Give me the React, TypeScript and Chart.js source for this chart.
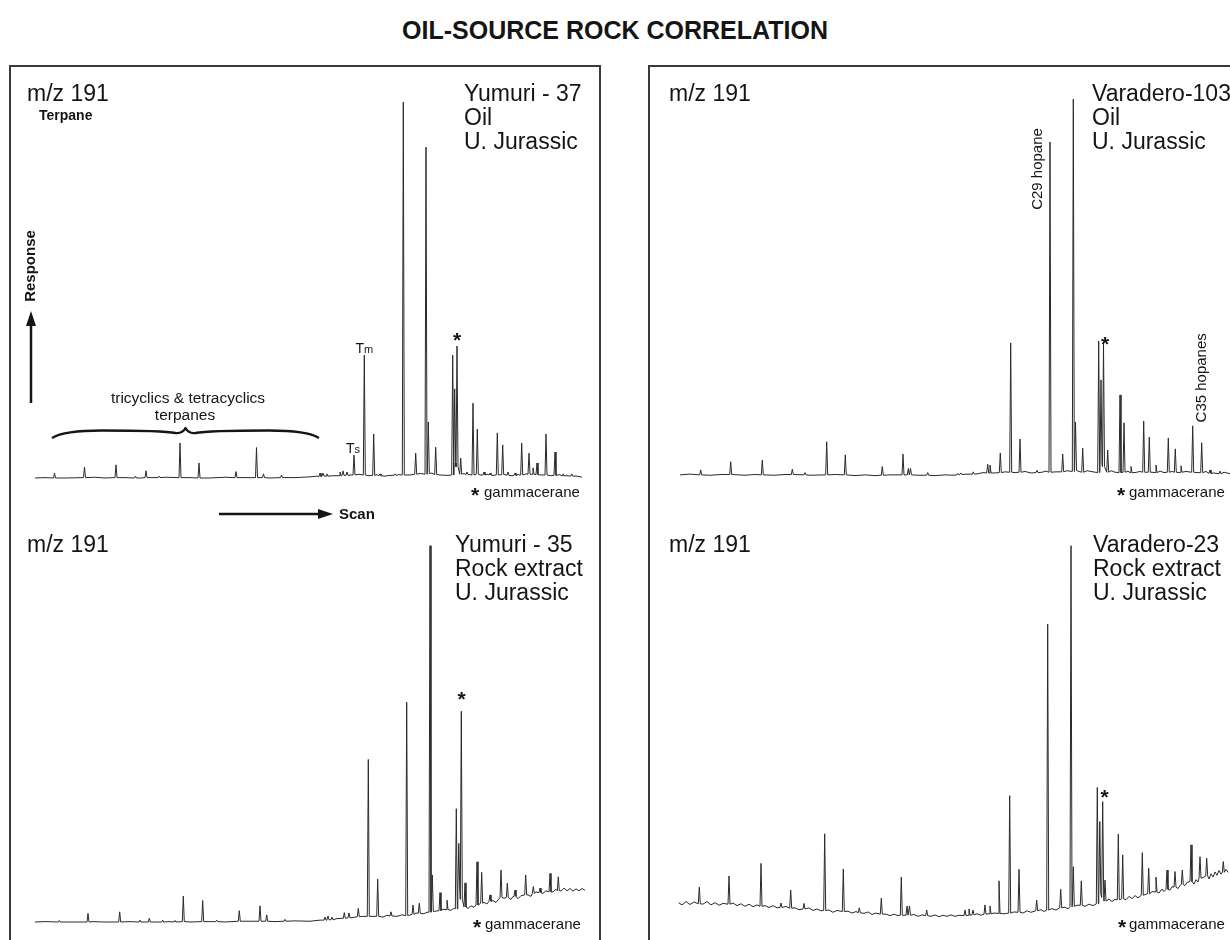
import React, { useEffect, useRef } from "react";
import { Chart, registerables } from "chart.js";

Chart.register(...registerables);

const FONT = '"Liberation Sans", Arial, Helvetica, sans-serif';
const INK = "#151515";
const TRACE = "#2a2a2a";
const FRAME = "#3a3a3a";

// Retention times are in minutes, responses in % of the largest peak of each run.
// Peaks: [retention time, apex response, trace level at the peak feet]
// Baseline: [retention time, level] readings between peaks.

const title = "OIL-SOURCE ROCK CORRELATION";
const ionLabel = "m/z 191";
const sampleNames = ["Yumuri - 37", "Varadero-103", "Yumuri - 35", "Varadero-23"];
const sampleTypes = ["Oil", "Oil", "Rock extract", "Rock extract"];
const sampleAge = "U. Jurassic";

// Yumuri-37, oil
const yumuri37Peaks = [
  [21.95, 1.3, 0.0], [24.95, 2.9, 0.1], [28.1, 3.5, 0.1], [30.05, 0.5, 0.0], [31.1, 1.9, 0.1],
  [32.4, 0.5, 0.1], [34.5, 9.3, 0.1], [36.4, 4.0, 0.0], [40.1, 1.7, 0.1], [42.15, 8.1, 0.1],
  [42.85, 1.1, 0.1], [44.65, 0.8, 0.1], [48.5, 1.3, 0.4], [48.8, 1.3, 0.5], [49.2, 1.1, 0.5],
  [50.5, 1.6, 0.6], [50.8, 1.9, 0.7], [51.2, 1.6, 0.7], [51.9, 6.1, 0.8], [52.93, 32.7, 0.8],
  [53.87, 11.7, 0.7], [54.5, 1.1, 0.6], [56.0, 1.1, 0.7], [56.83, 100, 0.8], [58.07, 6.6, 1.0],
  [59.1, 88.0, 1.0], [59.33, 14.9, 1.2], [60.07, 8.2, 0.9], [61.77, 32.7, 0.8], [61.97, 23.7, 4.0],
  [62.2, 35.1, 3.0], [62.57, 5.3, 1.0], [63.2, 1.6, 0.9], [63.8, 19.9, 0.8], [64.23, 13.0, 1.0],
  [64.9, 1.6, 0.8], [65.5, 1.3, 0.8], [66.23, 12.0, 0.8], [66.77, 8.8, 0.9], [67.3, 1.6, 0.7],
  [68.0, 1.3, 0.7], [68.67, 9.3, 0.8], [69.4, 6.6, 1.0], [69.8, 2.7, 1.0], [70.2, 4.0, 0.9],
  [71.1, 11.7, 0.8], [72.0, 6.9, 0.7], [72.8, 1.1, 0.6], [73.67, 1.1, 0.5],
];
const yumuri37Baseline = [
  [20.0, 0.0], [21.0, 0.1], [23.0, 0.0], [26.0, 0.2], [27.0, 0.0], [29.0, 0.1], [30.6, 0.0],
  [33.0, 0.2], [35.5, 0.1], [37.5, 0.0], [39.0, 0.2], [41.0, 0.1], [43.5, 0.0], [46.0, 0.1],
  [47.5, 0.3], [48.2, 0.5], [49.8, 0.6], [51.6, 0.8], [52.4, 1.0], [53.4, 0.6], [54.2, 0.9],
  [55.0, 0.5], [55.5, 0.7], [56.4, 0.9], [57.5, 0.8], [58.5, 1.2], [59.7, 1.3], [60.5, 0.8],
  [61.2, 0.7], [62.9, 1.2], [63.5, 0.9], [64.5, 0.8], [65.2, 1.0], [65.8, 0.7], [67.0, 0.9],
  [67.7, 0.6], [68.3, 0.9], [69.1, 1.1], [70.6, 0.8], [71.6, 0.6], [72.4, 0.9], [73.2, 0.6],
  [74.2, 0.5], [74.7, 0.2],
];

// Varadero-103, oil
const varadero103Peaks = [
  [22.07, 1.6, 0.3], [25.07, 3.8, 0.4], [28.23, 4.2, 0.3], [31.23, 1.8, 0.4], [32.5, 0.9, 0.3],
  [34.67, 9.1, 0.3], [36.53, 5.6, 0.3], [40.23, 2.5, 0.2], [42.3, 5.8, 0.3], [42.83, 2.0, 0.3],
  [43.05, 2.0, 0.3], [44.77, 0.9, 0.2], [47.8, 0.7, 0.3], [48.1, 0.8, 0.4], [49.33, 1.1, 0.5],
  [50.77, 3.1, 0.8], [51.0, 2.9, 0.8], [52.03, 6.1, 0.9], [53.07, 35.3, 1.0], [54.0, 9.8, 1.0],
  [55.7, 1.5, 0.9], [57.0, 88.6, 1.0], [58.27, 5.8, 1.1], [59.33, 100, 1.2], [59.55, 14.3, 1.5],
  [60.27, 7.4, 1.0], [61.87, 35.8, 0.9], [62.1, 25.5, 3.0], [62.35, 35.0, 2.5], [62.77, 6.9, 1.0],
  [64.0, 21.5, 0.9], [64.4, 14.1, 1.0], [65.1, 2.5, 0.9], [66.37, 14.6, 1.0], [66.93, 10.3, 1.0],
  [67.6, 2.9, 0.9], [68.83, 10.1, 1.0], [69.53, 7.2, 1.0], [70.1, 2.7, 1.0], [71.27, 13.3, 1.0],
  [72.17, 8.8, 0.9], [73.0, 1.6, 0.7], [74.0, 1.3, 0.6],
];
const varadero103Baseline = [
  [20.0, 0.3], [21.0, 0.5], [23.0, 0.2], [24.2, 0.4], [26.5, 0.2], [27.5, 0.4], [29.5, 0.2],
  [30.5, 0.4], [33.0, 0.2], [35.5, 0.4], [37.5, 0.1], [38.5, 0.3], [39.5, 0.1], [41.0, 0.3],
  [43.8, 0.2], [45.5, 0.1], [46.5, 0.3], [47.3, 0.2], [48.7, 0.5], [49.8, 0.6], [50.3, 0.9],
  [51.5, 0.8], [52.5, 1.1], [53.5, 0.9], [54.5, 1.2], [55.1, 0.8], [56.2, 1.0], [56.6, 1.3],
  [57.6, 1.1], [58.7, 1.4], [59.9, 1.2], [60.7, 1.4], [61.3, 1.1], [63.1, 1.4], [63.5, 1.0],
  [64.8, 1.3], [65.5, 0.9], [66.0, 1.2], [67.2, 1.0], [68.0, 1.3], [68.4, 0.9], [69.2, 1.2],
  [69.9, 0.9], [70.6, 1.2], [71.7, 0.9], [72.6, 1.2], [73.4, 0.8], [74.4, 1.0], [75.0, 0.6],
];

// Yumuri-35, rock extract
const yumuri35Peaks = [
  [22.43, 0.4, 0.0], [25.3, 2.3, 0.0], [28.47, 2.7, 0.0], [30.5, 0.5, 0.0], [31.43, 1.0, 0.0],
  [32.77, 0.5, 0.0], [34.0, 0.4, 0.0], [34.83, 6.9, 0.1], [36.77, 5.7, 0.1], [38.17, 0.5, 0.1],
  [40.43, 3.0, 0.2], [42.5, 4.3, 0.2], [43.17, 1.9, 0.2], [45.0, 0.7, 0.2], [49.0, 1.3, 0.5],
  [49.3, 1.6, 0.6], [49.7, 1.3, 0.6], [50.93, 2.5, 1.0], [51.4, 2.4, 1.1], [52.33, 3.6, 1.4],
  [53.33, 43.2, 1.5], [54.27, 11.4, 1.5], [55.6, 2.7, 1.6], [57.17, 58.4, 1.7], [57.8, 4.5, 2.0],
  [58.43, 5.0, 2.3], [59.5, 100, 2.6], [59.73, 12.5, 2.8], [60.5, 7.8, 3.0], [61.2, 5.8, 3.3],
  [62.13, 30.1, 3.5], [62.38, 20.9, 8.0], [62.63, 56.0, 6.0], [63.0, 10.4, 4.0], [64.2, 16.0, 4.5],
  [64.67, 13.2, 5.0], [65.5, 7.2, 5.5], [66.6, 13.8, 6.5], [67.23, 10.3, 6.5], [68.0, 8.5, 6.8],
  [69.07, 12.5, 7.2], [69.83, 9.4, 7.6], [70.5, 9.0, 7.8], [71.5, 12.9, 8.0], [72.33, 12.0, 8.3],
];
const yumuri35Baseline = [
  [20.0, 0.0], [21.0, 0.1], [23.5, 0.0], [25.8, 0.1], [27.0, 0.0], [29.5, 0.1], [31.9, 0.0],
  [33.4, 0.1], [35.6, 0.0], [37.5, 0.1], [39.0, 0.0], [41.5, 0.2], [44.0, 0.1], [46.0, 0.3],
  [47.5, 0.2], [48.5, 0.5], [50.2, 0.9], [51.8, 1.2], [52.8, 1.5], [54.8, 1.3], [55.2, 1.8],
  [56.2, 1.5], [56.7, 1.9], [58.1, 2.4], [58.9, 2.2], [59.2, 2.6], [60.1, 2.9], [60.8, 3.4],
  [61.6, 3.1], [61.85, 3.6], [63.3, 3.6], [63.6, 4.3], [63.9, 3.9], [64.9, 5.2], [65.2, 4.8],
  [65.8, 5.7], [66.1, 5.2], [66.9, 6.3], [67.6, 6.0], [67.8, 6.8], [68.3, 6.2], [68.6, 7.0],
  [69.3, 7.2], [69.6, 6.8], [70.1, 8.0], [70.8, 7.6], [71.1, 8.3], [71.8, 8.0], [72.1, 8.7],
  [72.6, 8.2], [72.9, 9.0], [73.2, 8.3], [73.5, 8.9], [73.8, 8.2], [74.1, 8.8], [74.4, 8.3],
  [74.7, 8.9], [75.0, 8.4],
];

// Varadero-23, rock extract
const varadero23Peaks = [
  [21.93, 7.8, 3.3], [24.9, 10.8, 3.2], [28.1, 14.2, 2.6], [30.1, 3.5, 2.3], [31.07, 7.0, 2.1],
  [32.4, 3.4, 1.9], [34.47, 22.2, 1.5], [36.33, 12.7, 1.2], [37.93, 2.2, 0.9], [40.13, 4.8, 0.5],
  [42.13, 10.5, 0.2], [42.7, 2.7, 0.2], [42.95, 2.7, 0.2], [44.67, 1.6, 0.1], [48.5, 1.6, 0.1],
  [48.9, 1.9, 0.2], [49.3, 1.6, 0.3], [50.5, 3.0, 0.5], [51.0, 2.7, 0.6], [51.9, 9.5, 0.7],
  [52.97, 32.5, 0.8], [53.9, 12.6, 1.0], [55.67, 4.3, 1.4], [56.77, 78.8, 1.6], [58.07, 7.2, 2.2],
  [59.1, 100, 2.5], [59.33, 13.3, 2.6], [60.13, 9.5, 2.9], [61.73, 34.7, 3.3], [61.98, 25.5, 6.0],
  [62.27, 30.9, 5.0], [62.5, 9.7, 4.0], [63.83, 22.1, 4.4], [64.27, 16.5, 4.6], [66.23, 17.1, 5.6],
  [66.87, 12.9, 6.0], [67.6, 10.5, 6.5], [68.7, 12.4, 7.2], [69.5, 12.0, 7.8], [70.23, 12.4, 8.5],
  [71.1, 19.2, 9.3], [72.0, 16.0, 10.2], [72.67, 15.6, 10.8], [74.33, 14.7, 11.8],
];
const varadero23Baseline = [
  [19.85, 3.6], [20.2, 3.0], [20.6, 3.9], [21.0, 3.1], [21.4, 3.8], [22.3, 3.2], [22.7, 3.9],
  [23.1, 3.0], [23.5, 3.6], [23.9, 2.9], [24.3, 3.4], [25.3, 3.5], [25.7, 2.8], [26.1, 3.3],
  [26.5, 2.6], [26.9, 3.2], [27.3, 2.5], [27.7, 3.0], [28.5, 2.8], [28.9, 2.3], [29.3, 2.8],
  [29.7, 2.2], [30.6, 2.6], [31.5, 2.2], [31.9, 1.7], [32.9, 2.2], [33.3, 1.5], [33.7, 1.9],
  [34.1, 1.4], [34.9, 1.6], [35.3, 1.0], [35.7, 1.5], [36.8, 1.3], [37.2, 0.8], [37.6, 1.2],
  [38.4, 0.7], [38.8, 1.1], [39.2, 0.4], [39.6, 0.8], [40.6, 0.5], [41.0, 0.1], [41.4, 0.5],
  [41.8, 0.1], [43.4, 0.4], [43.8, -0.1], [44.2, 0.3], [45.1, -0.1], [45.5, 0.3], [45.9, -0.2],
  [46.3, 0.2], [46.7, -0.1], [47.1, 0.3], [47.5, -0.1], [47.9, 0.2], [49.7, 0.6], [50.1, 0.2],
  [51.4, 0.8], [52.4, 0.6], [53.4, 1.1], [54.3, 0.8], [54.7, 1.4], [55.1, 1.0], [56.1, 1.7],
  [56.4, 1.2], [57.2, 2.0], [57.6, 1.6], [58.5, 2.4], [58.8, 1.9], [59.7, 2.9], [60.5, 2.6],
  [60.9, 3.2], [61.3, 2.8], [62.9, 4.6], [63.2, 3.9], [63.5, 4.5], [64.6, 4.4], [64.9, 5.3],
  [65.2, 4.7], [65.5, 5.5], [65.8, 4.9], [66.5, 5.8], [67.2, 6.6], [67.9, 6.2], [68.2, 7.3],
  [68.4, 6.6], [69.0, 7.0], [69.2, 7.9], [69.8, 7.4], [70.0, 8.3], [70.5, 8.2], [70.7, 9.1],
  [71.4, 8.6], [71.6, 9.8], [71.8, 9.2], [72.3, 10.4], [72.9, 10.0], [73.1, 11.4], [73.3, 10.5],
  [73.5, 11.9], [73.7, 11.0], [73.9, 12.3], [74.1, 11.3], [74.6, 12.6], [74.8, 11.8],
];

// Elution window of the tricyclic and tetracyclic terpanes (min)
const tricyclicWindow = [21.7, 48.4];

const PEAK_HALF_WIDTH = 0.1; // min
const PX_PER_MIN = 10;

function buildTrace(peaks, baseline) {
  const windows = peaks.map(([t]) => [t - PEAK_HALF_WIDTH - 0.02, t + PEAK_HALF_WIDTH + 0.02]);
  const pts = [];
  for (const [t, v] of baseline) {
    if (windows.some(([a, b]) => t > a && t < b)) continue;
    pts.push({ x: t, y: v });
  }
  for (const [t, apex, foot] of peaks) {
    pts.push({ x: t - PEAK_HALF_WIDTH, y: foot });
    pts.push({ x: t, y: apex });
    pts.push({ x: t + PEAK_HALF_WIDTH, y: foot });
  }
  pts.sort((a, b) => a.x - b.x);
  return pts;
}

const HEAD = `23px ${FONT}`;
const NOTE = `15px ${FONT}`;
const STAR = `bold 21px ${FONT}`;
const LABEL = `15px ${FONT}`;

function headerLines(lines, x, y0) {
  return lines.map((text, i) => ({ text, x, y: y0 + i * 24, font: HEAD }));
}
function footnote(starX, textX, baselineY) {
  return [
    { text: "*", x: starX, y: baselineY - 5.5, font: STAR, align: "center", vcenter: true },
    { text: "gammacerane", x: textX, y: baselineY, font: NOTE },
  ];
}

function drawText(ctx, s, x, y) {
  ctx.save();
  ctx.translate(x, y);
  if (s.rotate) ctx.rotate(-Math.PI / 2);
  ctx.font = s.font;
  ctx.textBaseline = "alphabetic";
  let dy = 0;
  if (s.vcenter) {
    const m = ctx.measureText(s.text);
    dy = (m.actualBoundingBoxAscent - m.actualBoundingBoxDescent) / 2;
  }
  if (s.sub) {
    const w1 = ctx.measureText(s.text).width;
    ctx.font = s.subFont;
    const w2 = ctx.measureText(s.sub).width;
    const start = s.align === "center" ? -(w1 + w2) / 2 : 0;
    ctx.textAlign = "left";
    ctx.font = s.font;
    ctx.fillText(s.text, start, dy);
    ctx.font = s.subFont;
    ctx.fillText(s.sub, start + w1, dy);
  } else {
    ctx.textAlign = s.align || "left";
    ctx.fillText(s.text, 0, dy);
  }
  ctx.restore();
}

function arrow(ctx, x1, y1, x2, y2, head, halfW) {
  const ang = Math.atan2(y2 - y1, x2 - x1);
  const bx = x2 - head * Math.cos(ang);
  const by = y2 - head * Math.sin(ang);
  ctx.beginPath();
  ctx.moveTo(x1, y1);
  ctx.lineTo(bx, by);
  ctx.lineWidth = 2.5;
  ctx.stroke();
  ctx.beginPath();
  ctx.moveTo(x2, y2);
  ctx.lineTo(bx - halfW * Math.sin(ang), by + halfW * Math.cos(ang));
  ctx.lineTo(bx + halfW * Math.sin(ang), by - halfW * Math.cos(ang));
  ctx.closePath();
  ctx.fill();
}

function drawYumuri37Guides(ctx, xs, ox, oy) {
  // response and scan direction arrows
  arrow(ctx, 31 - ox, 403 - oy, 31 - ox, 311 - oy, 15, 5);
  arrow(ctx, 219 - ox, 514 - oy, 333 - ox, 514 - oy, 15, 5);
  // brace over the tricyclic / tetracyclic terpanes
  const L = xs.getPixelForValue(tricyclicWindow[0]);
  const R = xs.getPixelForValue(tricyclicWindow[1]);
  const c = (L + R) / 2;
  const yEnd = 438 - oy, yArm = 430.5 - oy, yIn = 433 - oy, yTip = 428 - oy;
  ctx.beginPath();
  ctx.moveTo(L, yEnd);
  ctx.quadraticCurveTo(L + 12, yArm, L + 50, yArm);
  ctx.quadraticCurveTo(c - 22, yArm, c - 10, yIn);
  ctx.quadraticCurveTo(c - 3, yIn + 0.8, c, yTip);
  ctx.quadraticCurveTo(c + 3, yIn + 0.8, c + 10, yIn);
  ctx.quadraticCurveTo(c + 22, yArm, R - 50, yArm);
  ctx.quadraticCurveTo(R - 12, yArm, R, yEnd);
  ctx.lineWidth = 2.3;
  ctx.lineJoin = "round";
  ctx.stroke();
}

const panels = [
  {
    id: "yumuri37",
    peaks: yumuri37Peaks,
    baseline: yumuri37Baseline,
    rect: { left: 11, top: 67, width: 588, height: 463 },
    axis: { t20Px: 35, zeroPx: 478, fullPx: 102 },
    texts: [
      { text: ionLabel, x: 27, y: 101, font: HEAD },
      { text: "Terpane", x: 39, y: 120, font: `bold 14px ${FONT}` },
      ...headerLines([sampleNames[0], sampleTypes[0], sampleAge], 464, 101),
      { text: "Response", x: 31.5, y: 266, font: `bold 15px ${FONT}`, rotate: true, align: "center", vcenter: true },
      { text: "tricyclics & tetracyclics", x: 188, y: 403, font: `15.5px ${FONT}`, align: "center" },
      { text: "terpanes", x: 185, y: 420, font: `15.5px ${FONT}`, align: "center" },
      { text: "Scan", x: 339, y: 519, font: `bold 15px ${FONT}` },
      ...footnote(475, 484, 497),
    ],
    marks: [
      { text: "T", sub: "m", peak: 52.93, dx: 0, dy: -2, font: `14px ${FONT}`, subFont: `11px ${FONT}`, align: "center" },
      { text: "T", sub: "s", peak: 51.9, dx: -1, dy: -2, font: `14px ${FONT}`, subFont: `11px ${FONT}`, align: "center" },
      { text: "*", peak: 62.2, dx: 0, dy: -9.5, font: STAR, align: "center", vcenter: true },
    ],
    decorate: drawYumuri37Guides,
  },
  {
    id: "varadero103",
    peaks: varadero103Peaks,
    baseline: varadero103Baseline,
    rect: { left: 650, top: 67, width: 580, height: 463 },
    axis: { t20Px: 680, zeroPx: 476, fullPx: 99 },
    texts: [
      { text: ionLabel, x: 669, y: 101, font: HEAD },
      ...headerLines([sampleNames[1], sampleTypes[1], sampleAge], 1092, 101),
      ...footnote(1121, 1129, 497),
    ],
    marks: [
      { text: "C29 hopane", peak: 57.0, dx: -12, dy: 27, font: LABEL, rotate: true, align: "center", vcenter: true },
      { text: "C35 hopanes", peak: 72.17, dx: 0, dy: -65, font: LABEL, rotate: true, align: "center", vcenter: true },
      { text: "*", peak: 62.35, dx: 1.5, dy: -3, font: STAR, align: "center", vcenter: true },
    ],
  },
  {
    id: "yumuri35",
    peaks: yumuri35Peaks,
    baseline: yumuri35Baseline,
    rect: { left: 11, top: 530, width: 588, height: 410 },
    axis: { t20Px: 35, zeroPx: 922, fullPx: 545.7 },
    texts: [
      { text: ionLabel, x: 27, y: 552, font: HEAD },
      ...headerLines([sampleNames[2], sampleTypes[2], sampleAge], 455, 552),
      ...footnote(477, 485, 929),
    ],
    marks: [{ text: "*", peak: 62.63, dx: 0.4, dy: -15, font: STAR, align: "center", vcenter: true }],
  },
  {
    id: "varadero23",
    peaks: varadero23Peaks,
    baseline: varadero23Baseline,
    rect: { left: 650, top: 530, width: 580, height: 410 },
    axis: { t20Px: 680, zeroPx: 916, fullPx: 545.7 },
    texts: [
      { text: ionLabel, x: 669, y: 552, font: HEAD },
      ...headerLines([sampleNames[3], sampleTypes[3], sampleAge], 1093, 552),
      ...footnote(1122, 1129, 929),
    ],
    marks: [{ text: "*", peak: 62.27, dx: 2, dy: -8, font: STAR, align: "center", vcenter: true }],
  },
];

function annotations(p) {
  return {
    id: "panelAnnotations",
    afterDatasetsDraw(chart) {
      const { ctx } = chart;
      const xs = chart.scales.x;
      const ys = chart.scales.y;
      const ox = p.rect.left;
      const oy = p.rect.top;
      ctx.save();
      ctx.fillStyle = INK;
      ctx.strokeStyle = INK;
      for (const t of p.texts) drawText(ctx, t, t.x - ox, t.y - oy);
      for (const m of p.marks) {
        const pk = p.peaks.find((q) => q[0] === m.peak);
        const x = xs.getPixelForValue(pk[0]) + (m.dx || 0);
        const y = ys.getPixelForValue(pk[1]) + (m.dy || 0);
        drawText(ctx, m, x, y);
      }
      if (p.decorate) p.decorate(ctx, xs, ox, oy);
      ctx.restore();
    },
  };
}

function makeConfig(p) {
  const pxPerPct = (p.axis.zeroPx - p.axis.fullPx) / 100;
  const xMin = 20 + (p.rect.left - p.axis.t20Px) / PX_PER_MIN;
  const xMax = 20 + (p.rect.left + p.rect.width - p.axis.t20Px) / PX_PER_MIN;
  const yMax = (p.axis.zeroPx - p.rect.top) / pxPerPct;
  const yMin = (p.axis.zeroPx - (p.rect.top + p.rect.height)) / pxPerPct;
  return {
    type: "line",
    data: {
      datasets: [
        {
          data: buildTrace(p.peaks, p.baseline),
          parsing: false,
          borderColor: TRACE,
          borderWidth: 1,
          borderJoinStyle: "round",
          pointRadius: 0,
          tension: 0,
          fill: false,
        },
      ],
    },
    options: {
      animation: false,
      responsive: false,
      devicePixelRatio: 1,
      events: [],
      layout: { padding: 0, autoPadding: false },
      plugins: { legend: { display: false }, tooltip: { enabled: false }, title: { display: false } },
      scales: {
        x: { type: "linear", display: false, min: xMin, max: xMax },
        y: { type: "linear", display: false, min: yMin, max: yMax },
      },
    },
    plugins: [annotations(p)],
  };
}

function Chromatogram({ panel }) {
  const ref = useRef(null);
  useEffect(() => {
    const chart = new Chart(ref.current, makeConfig(panel));
    return () => chart.destroy();
  }, [panel]);
  const r = panel.rect;
  return (
    <canvas
      ref={ref}
      width={r.width}
      height={r.height}
      style={{ position: "absolute", left: r.left, top: r.top, width: r.width, height: r.height }}
    />
  );
}

export default function App() {
  return (
    <div
      style={{
        position: "absolute",
        left: 0,
        top: 0,
        width: 1230,
        height: 940,
        overflow: "hidden",
        background: "#ffffff",
      }}
    >
      <div
        style={{
          position: "absolute",
          left: 0,
          top: 17.8,
          width: 1230,
          textAlign: "center",
          font: `bold 25px/25px ${FONT}`,
          color: INK,
          whiteSpace: "nowrap",
        }}
      >
        {title}
      </div>
      <div
        style={{
          position: "absolute",
          left: 9,
          top: 65,
          width: 592,
          height: 900,
          border: `2px solid ${FRAME}`,
          boxSizing: "border-box",
        }}
      />
      <div
        style={{
          position: "absolute",
          left: 648,
          top: 65,
          width: 620,
          height: 900,
          border: `2px solid ${FRAME}`,
          boxSizing: "border-box",
        }}
      />
      {panels.map((p) => (
        <Chromatogram key={p.id} panel={p} />
      ))}
    </div>
  );
}
